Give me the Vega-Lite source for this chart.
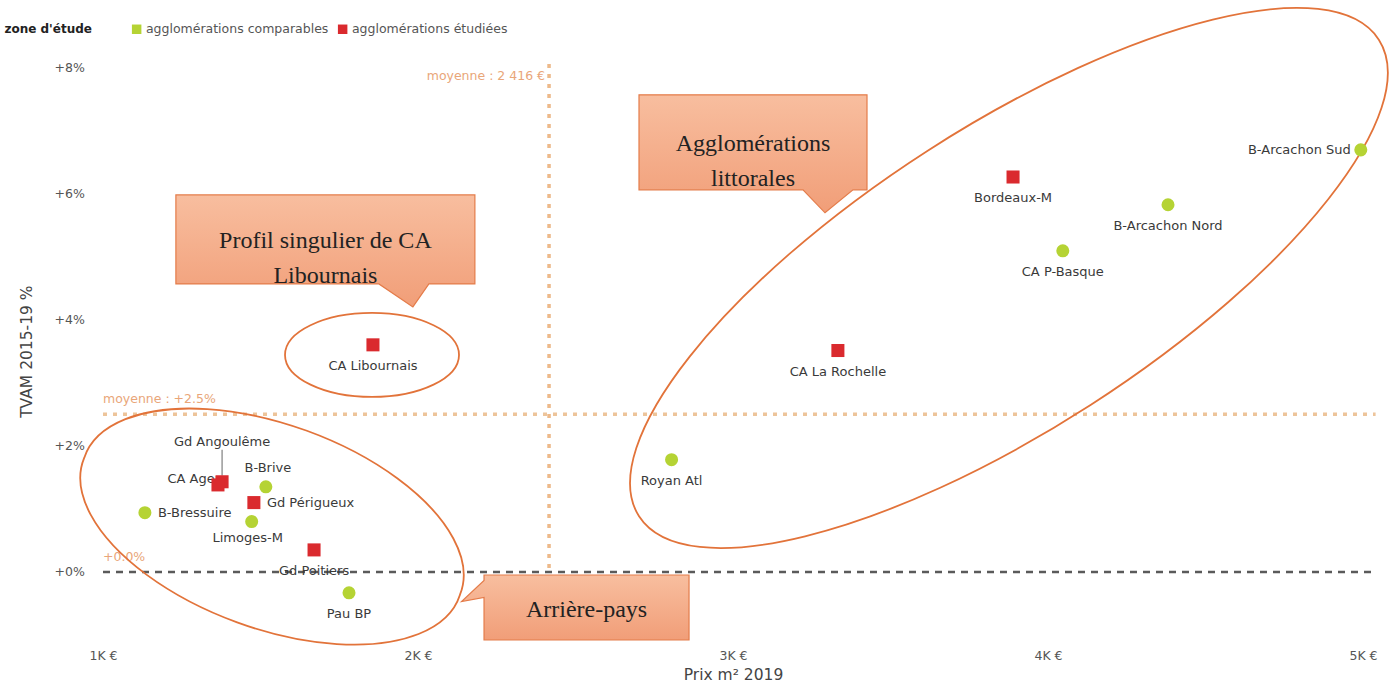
{
  "$schema": "https://vega.github.io/schema/vega-lite/v6.json",
  "width": 1285.2,
  "height": 580.5,
  "autosize": {"type": "none"},
  "padding": {"left": 90.4, "top": 60.9, "right": 16.4, "bottom": 49.6},
  "background": "white",
  "config": {"view": {"stroke": null}, "font": "DejaVu Sans"},
  "resolve": {"scale": {"shape": "independent"}},
  "datasets": {
    "points": [
      {"nom": "B-Arcachon Sud", "zone": "agglomérations comparables", "prix": 4993, "tvam": 6.69},
      {"nom": "Bordeaux-M", "zone": "agglomérations étudiées", "prix": 3889, "tvam": 6.26},
      {"nom": "B-Arcachon Nord", "zone": "agglomérations comparables", "prix": 4381, "tvam": 5.82},
      {"nom": "CA P-Basque", "zone": "agglomérations comparables", "prix": 4047, "tvam": 5.09},
      {"nom": "CA La Rochelle", "zone": "agglomérations étudiées", "prix": 3333, "tvam": 3.51},
      {"nom": "CA Libournais", "zone": "agglomérations étudiées", "prix": 1857, "tvam": 3.6},
      {"nom": "Royan Atl", "zone": "agglomérations comparables", "prix": 2805, "tvam": 1.78},
      {"nom": "Gd Angoulême", "zone": "agglomérations étudiées", "prix": 1378, "tvam": 1.43},
      {"nom": "CA Agen", "zone": "agglomérations étudiées", "prix": 1365, "tvam": 1.38},
      {"nom": "B-Brive", "zone": "agglomérations comparables", "prix": 1517, "tvam": 1.35},
      {"nom": "Gd Périgueux", "zone": "agglomérations étudiées", "prix": 1479, "tvam": 1.1},
      {"nom": "B-Bressuire", "zone": "agglomérations comparables", "prix": 1133, "tvam": 0.94},
      {"nom": "Limoges-M", "zone": "agglomérations comparables", "prix": 1472, "tvam": 0.8},
      {"nom": "Gd Poitiers", "zone": "agglomérations étudiées", "prix": 1670, "tvam": 0.35},
      {"nom": "Pau BP", "zone": "agglomérations comparables", "prix": 1781, "tvam": -0.33}
    ],
    "ellipses": [
      {"id": "arriere", "prix": 1536.5, "tvam": 0.72},
      {"id": "libournais", "prix": 1854, "tvam": 3.44},
      {"id": "littoral", "prix": 3876, "tvam": 4.66}
    ],
    "callouts": [
      {"id": "profil", "texte": "Profil singulier de CA\nLibournais", "prix": 1706, "tvam": 5.27},
      {"id": "littoral", "texte": "Agglomérations\nlittorales", "prix": 3063.5, "tvam": 6.81},
      {"id": "arriere", "texte": "Arrière-pays", "prix": 2535, "tvam": -0.563}
    ]
  },
  "layer": [
    {
      "data": {"values": [{"tvam": 2.5}]},
      "mark": {"type": "rule", "color": "#EDC49A", "strokeWidth": 3.5, "strokeDash": [4, 6]},
      "encoding": {
        "x": {"datum": 1000, "type": "quantitative", "scale": {"domain": [960, 5040], "nice": false, "zero": false}},
        "x2": {"datum": 5040},
        "y": {"field": "tvam", "type": "quantitative", "title": "TVAM 2015-19 %", "scale": {"domain": [-1.1, 8.1], "nice": false, "zero": false}}
      }
    },
    {
      "data": {"values": [{"tvam": 0}]},
      "mark": {"type": "rule", "color": "#5a5a5a", "strokeWidth": 2.5, "strokeDash": [7, 6]},
      "encoding": {
        "x": {"datum": 1000, "type": "quantitative", "scale": {"domain": [960, 5040], "nice": false, "zero": false}},
        "x2": {"datum": 5040},
        "y": {"field": "tvam", "type": "quantitative", "title": "TVAM 2015-19 %", "scale": {"domain": [-1.1, 8.1], "nice": false, "zero": false}}
      }
    },
    {
      "data": {"values": [{"prix": 2416}]},
      "mark": {"type": "rule", "color": "#EDB98A", "strokeWidth": 3.5, "strokeDash": [4, 6]},
      "encoding": {
        "x": {"field": "prix", "type": "quantitative", "title": "Prix m² 2019", "scale": {"domain": [960, 5040], "nice": false, "zero": false}},
        "y": {"datum": 8.05, "type": "quantitative", "scale": {"domain": [-1.1, 8.1], "nice": false, "zero": false}},
        "y2": {"datum": 0}
      }
    },
    {
      "data": {"values": [{"prix": 2416, "libelle": "moyenne : 2 416 €"}]},
      "mark": {"type": "text", "align": "right", "baseline": "middle", "dx": -4, "dy": 9, "fontSize": 12.5, "color": "#E9A679"},
      "encoding": {
        "x": {"field": "prix", "type": "quantitative", "title": "Prix m² 2019", "scale": {"domain": [960, 5040], "nice": false, "zero": false}},
        "y": {"datum": 8, "type": "quantitative", "scale": {"domain": [-1.1, 8.1], "nice": false, "zero": false}},
        "text": {"field": "libelle"}
      }
    },
    {
      "data": {"values": [{"tvam": 2.5, "libelle": "moyenne : +2.5%"}, {"tvam": 0, "libelle": "+0.0%"}]},
      "mark": {"type": "text", "align": "left", "baseline": "middle", "dy": -15, "fontSize": 12.5, "color": "#E9A679"},
      "encoding": {
        "x": {"datum": 1000, "type": "quantitative", "scale": {"domain": [960, 5040], "nice": false, "zero": false}},
        "y": {"field": "tvam", "type": "quantitative", "title": "TVAM 2015-19 %", "scale": {"domain": [-1.1, 8.1], "nice": false, "zero": false}},
        "text": {"field": "libelle"}
      }
    },
    {
      "data": {"name": "ellipses"},
      "mark": {"type": "point", "filled": false, "size": 4, "opacity": 1, "stroke": "#E2733A", "strokeWidth": 1.8},
      "encoding": {
        "x": {"field": "prix", "type": "quantitative", "title": "Prix m² 2019", "scale": {"domain": [960, 5040], "nice": false, "zero": false}},
        "y": {"field": "tvam", "type": "quantitative", "title": "TVAM 2015-19 %", "scale": {"domain": [-1.1, 8.1], "nice": false, "zero": false}},
        "shape": {
          "field": "id", "type": "nominal", "legend": null,
          "scale": {
            "domain": ["arriere", "libournais", "littoral"],
            "range": [
              "M -187.9 -68.4 A 200 100 20 1 1 187.9 68.4 A 200 100 20 1 1 -187.9 -68.4 Z",
              "M -87 0 A 87 42 0 1 1 87 0 A 87 42 0 1 1 -87 0 Z",
              "M -369.9 238.3 A 440 151 -32.8 1 1 369.9 -238.3 A 440 151 -32.8 1 1 -369.9 238.3 Z"
            ]
          }
        }
      }
    },
    {
      "data": {"name": "callouts"},
      "mark": {
        "type": "point", "filled": true, "size": 4, "opacity": 1,
        "fill": {"gradient": "linear", "x1": 0, "y1": 0, "x2": 0, "y2": 1, "stops": [{"offset": 0, "color": "#F8BE9F"}, {"offset": 1, "color": "#F19E78"}]},
        "stroke": "#E47C4A", "strokeWidth": 1.2
      },
      "encoding": {
        "x": {"field": "prix", "type": "quantitative", "title": "Prix m² 2019", "scale": {"domain": [960, 5040], "nice": false, "zero": false}},
        "y": {"field": "tvam", "type": "quantitative", "title": "TVAM 2015-19 %", "scale": {"domain": [-1.1, 8.1], "nice": false, "zero": false}},
        "shape": {
          "field": "id", "type": "nominal", "legend": null,
          "scale": {
            "domain": ["profil", "littoral", "arriere"],
            "range": [
              "M -149.5 -44.5 L 149.5 -44.5 L 149.5 44.5 L 103.5 44.5 L 87.5 67.5 L 53.5 44.5 L -149.5 44.5 Z",
              "M -114 -47.5 L 114 -47.5 L 114 47.5 L 100 47.5 L 72 70.5 L 50 47.5 L -114 47.5 Z",
              "M -102.5 -32.5 L 102.5 -32.5 L 102.5 32.5 L -102.5 32.5 L -102.5 -10 L -125 -6 L -102.5 -27 Z"
            ]
          }
        }
      }
    },
    {
      "data": {"name": "callouts"},
      "mark": {"type": "text", "font": "Liberation Serif", "fontSize": 24, "color": "#222", "align": "center", "baseline": "middle", "lineBreak": "\n", "lineHeight": 35, "dy": 2},
      "encoding": {
        "x": {"field": "prix", "type": "quantitative", "title": "Prix m² 2019", "scale": {"domain": [960, 5040], "nice": false, "zero": false}},
        "y": {"field": "tvam", "type": "quantitative", "title": "TVAM 2015-19 %", "scale": {"domain": [-1.1, 8.1], "nice": false, "zero": false}},
        "text": {"field": "texte"}
      }
    },
    {
      "data": {"name": "points"},
      "transform": [{"filter": "datum.nom === 'Gd Angoulême'"}],
      "mark": {"type": "rule", "color": "#666", "strokeWidth": 1, "yOffset": -32, "y2Offset": -6},
      "encoding": {
        "x": {"field": "prix", "type": "quantitative", "title": "Prix m² 2019", "scale": {"domain": [960, 5040], "nice": false, "zero": false}},
        "y": {"field": "tvam", "type": "quantitative", "title": "TVAM 2015-19 %", "scale": {"domain": [-1.1, 8.1], "nice": false, "zero": false}},
        "y2": {"field": "tvam"}
      }
    },
    {
      "data": {"name": "points"},
      "transform": [{"filter": {"field": "nom", "oneOf": ["Bordeaux-M", "B-Arcachon Nord", "CA P-Basque", "CA La Rochelle", "CA Libournais", "Royan Atl", "Gd Poitiers", "Pau BP"]}}],
      "mark": {"type": "text", "align": "center", "baseline": "middle", "dy": 21, "fontSize": 13, "color": "#3a3a3a"},
      "encoding": {
        "x": {"field": "prix", "type": "quantitative", "title": "Prix m² 2019", "scale": {"domain": [960, 5040], "nice": false, "zero": false}},
        "y": {"field": "tvam", "type": "quantitative", "title": "TVAM 2015-19 %", "scale": {"domain": [-1.1, 8.1], "nice": false, "zero": false}},
        "text": {"field": "nom"}
      }
    },
    {
      "data": {"name": "points"},
      "transform": [{"filter": "datum.nom === 'Limoges-M'"}],
      "mark": {"type": "text", "align": "center", "baseline": "middle", "dx": -4, "dy": 16, "fontSize": 13, "color": "#3a3a3a"},
      "encoding": {
        "x": {"field": "prix", "type": "quantitative", "title": "Prix m² 2019", "scale": {"domain": [960, 5040], "nice": false, "zero": false}},
        "y": {"field": "tvam", "type": "quantitative", "title": "TVAM 2015-19 %", "scale": {"domain": [-1.1, 8.1], "nice": false, "zero": false}},
        "text": {"field": "nom"}
      }
    },
    {
      "data": {"name": "points"},
      "transform": [{"filter": "datum.nom === 'B-Arcachon Sud'"}],
      "mark": {"type": "text", "align": "right", "baseline": "middle", "dx": -10, "fontSize": 13, "color": "#3a3a3a"},
      "encoding": {
        "x": {"field": "prix", "type": "quantitative", "title": "Prix m² 2019", "scale": {"domain": [960, 5040], "nice": false, "zero": false}},
        "y": {"field": "tvam", "type": "quantitative", "title": "TVAM 2015-19 %", "scale": {"domain": [-1.1, 8.1], "nice": false, "zero": false}},
        "text": {"field": "nom"}
      }
    },
    {
      "data": {"name": "points"},
      "transform": [{"filter": {"field": "nom", "oneOf": ["B-Bressuire", "Gd Périgueux"]}}],
      "mark": {"type": "text", "align": "left", "baseline": "middle", "dx": 13, "fontSize": 13, "color": "#3a3a3a"},
      "encoding": {
        "x": {"field": "prix", "type": "quantitative", "title": "Prix m² 2019", "scale": {"domain": [960, 5040], "nice": false, "zero": false}},
        "y": {"field": "tvam", "type": "quantitative", "title": "TVAM 2015-19 %", "scale": {"domain": [-1.1, 8.1], "nice": false, "zero": false}},
        "text": {"field": "nom"}
      }
    },
    {
      "data": {"name": "points"},
      "transform": [{"filter": "datum.nom === 'B-Brive'"}],
      "mark": {"type": "text", "align": "center", "baseline": "middle", "dx": 2, "dy": -19, "fontSize": 13, "color": "#3a3a3a"},
      "encoding": {
        "x": {"field": "prix", "type": "quantitative", "title": "Prix m² 2019", "scale": {"domain": [960, 5040], "nice": false, "zero": false}},
        "y": {"field": "tvam", "type": "quantitative", "title": "TVAM 2015-19 %", "scale": {"domain": [-1.1, 8.1], "nice": false, "zero": false}},
        "text": {"field": "nom"}
      }
    },
    {
      "data": {"name": "points"},
      "transform": [{"filter": "datum.nom === 'Gd Angoulême'"}],
      "mark": {"type": "text", "align": "center", "baseline": "middle", "dy": -40, "fontSize": 13, "color": "#3a3a3a"},
      "encoding": {
        "x": {"field": "prix", "type": "quantitative", "title": "Prix m² 2019", "scale": {"domain": [960, 5040], "nice": false, "zero": false}},
        "y": {"field": "tvam", "type": "quantitative", "title": "TVAM 2015-19 %", "scale": {"domain": [-1.1, 8.1], "nice": false, "zero": false}},
        "text": {"field": "nom"}
      }
    },
    {
      "data": {"name": "points"},
      "transform": [{"filter": "datum.nom === 'CA Agen'"}],
      "mark": {"type": "text", "align": "right", "baseline": "middle", "dx": 5, "dy": -6, "fontSize": 13, "color": "#3a3a3a"},
      "encoding": {
        "x": {"field": "prix", "type": "quantitative", "title": "Prix m² 2019", "scale": {"domain": [960, 5040], "nice": false, "zero": false}},
        "y": {"field": "tvam", "type": "quantitative", "title": "TVAM 2015-19 %", "scale": {"domain": [-1.1, 8.1], "nice": false, "zero": false}},
        "text": {"field": "nom"}
      }
    },
    {
      "data": {"name": "points"},
      "mark": {"type": "point", "filled": true, "size": 170, "opacity": 1},
      "encoding": {
        "x": {
          "field": "prix", "type": "quantitative", "title": "Prix m² 2019",
          "scale": {"domain": [960, 5040], "nice": false, "zero": false},
          "axis": {
            "values": [1000, 2000, 3000, 4000, 5000],
            "labelExpr": "datum.value / 1000 + 'K €'",
            "title": "Prix m² 2019",
            "domain": false, "ticks": false, "grid": false,
            "labelPadding": 8, "labelFontSize": 12.5, "labelColor": "#555",
            "titleFontSize": 15.5, "titleFontWeight": "normal", "titleColor": "#444", "titlePadding": 6
          }
        },
        "y": {
          "field": "tvam", "type": "quantitative", "title": "TVAM 2015-19 %",
          "scale": {"domain": [-1.1, 8.1], "nice": false, "zero": false},
          "axis": {
            "values": [0, 2, 4, 6, 8],
            "labelExpr": "(datum.value >= 0 ? '+' : '') + datum.value + '%'",
            "title": "TVAM 2015-19 %",
            "domain": false, "ticks": false, "grid": false,
            "labelPadding": 6, "labelFontSize": 12.5, "labelColor": "#555",
            "titleFontSize": 15.5, "titleFontWeight": "normal", "titleColor": "#444", "titlePadding": 20
          }
        },
        "color": {
          "field": "zone", "type": "nominal",
          "scale": {"domain": ["agglomérations comparables", "agglomérations étudiées"], "range": ["#B5D334", "#DA2A2E"]},
          "legend": {
            "title": "zone d'étude", "orient": "none", "legendX": -86, "legendY": -38,
            "direction": "horizontal", "titleOrient": "left", "titleFontWeight": "bold",
            "titleFontSize": 12, "titleColor": "#222", "titlePadding": 38,
            "labelFontSize": 12.5, "labelColor": "#555", "labelLimit": 0, "symbolType": "square",
            "symbolSize": 90, "symbolStrokeWidth": 0, "labelOffset": 3, "columnPadding": 8
          }
        },
        "shape": {
          "field": "zone", "type": "nominal", "legend": null,
          "scale": {"domain": ["agglomérations comparables", "agglomérations étudiées"], "range": ["circle", "square"]}
        }
      }
    }
  ]
}
